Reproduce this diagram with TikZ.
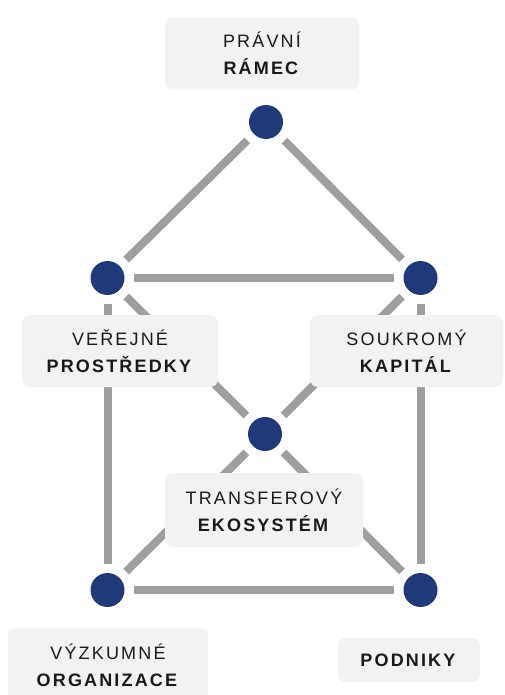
\documentclass[tikz,border=0pt]{standalone}
\usepackage{fontspec}
\setmainfont{Liberation Sans}
\newfontfamily\lblfont[LetterSpace=12]{Liberation Sans}
\definecolor{navy}{RGB}{31,58,122}
\definecolor{edgegray}{RGB}{158,158,158}
\definecolor{boxfill}{RGB}{242,242,242}
\definecolor{txt}{RGB}{25,25,25}
\begin{document}
\begin{tikzpicture}[x=1pt,y=-1pt,
  dot/.style={circle,fill=navy,minimum size=34pt,inner sep=0pt},
  link/.style={draw=edgegray,line width=8pt,shorten <=9pt,shorten >=9pt},
  lbl/.style={fill=boxfill,rounded corners=8pt,font=\lblfont\fontsize{18}{27}\selectfont,text=txt,align=center,inner sep=0pt}]
\useasboundingbox (0,0) rectangle (504,695);
\clip (0,0) rectangle (504,695);
% dots
\node[dot] (T) at (266,122) {};
\node[dot] (L) at (107.5,278) {};
\node[dot] (R) at (420.5,278) {};
\node[dot] (C) at (265,434) {};
\node[dot] (BL) at (107.5,590) {};
\node[dot] (BR) at (420.5,590) {};
% links
\draw[link] (T) -- (L);
\draw[link] (T) -- (R);
\draw[link] (L) -- (R);
\draw[link] (L) -- (C);
\draw[link] (R) -- (C);
\draw[link] (L) -- (BL);
\draw[link] (R) -- (BR);
\draw[link] (C) -- (BL);
\draw[link] (C) -- (BR);
\draw[link] (BL) -- (BR);
% labels
\node[lbl,minimum width=194pt,minimum height=72pt] (lT) at (262,53.5) {PRÁVNÍ\\\textbf{RÁMEC}};
\node[lbl,minimum width=196pt,minimum height=72pt] (lL) at (120,351) {VEŘEJNÉ\\\textbf{PROSTŘEDKY}};
\node[lbl,minimum width=193pt,minimum height=72pt] (lR) at (406.5,351) {SOUKROMÝ\\\textbf{KAPITÁL}};
\node[lbl,minimum width=198pt,minimum height=74pt] (lC) at (264,510) {TRANSFEROVÝ\\\textbf{EKOSYSTÉM}};
\node[lbl,minimum width=200pt,minimum height=74pt] (lBL) at (108,665) {VÝZKUMNÉ\\\textbf{ORGANIZACE}};
\node[lbl,minimum width=142pt,minimum height=44pt] (lBR) at (409,660) {\textbf{PODNIKY}};
\end{tikzpicture}
\end{document}
